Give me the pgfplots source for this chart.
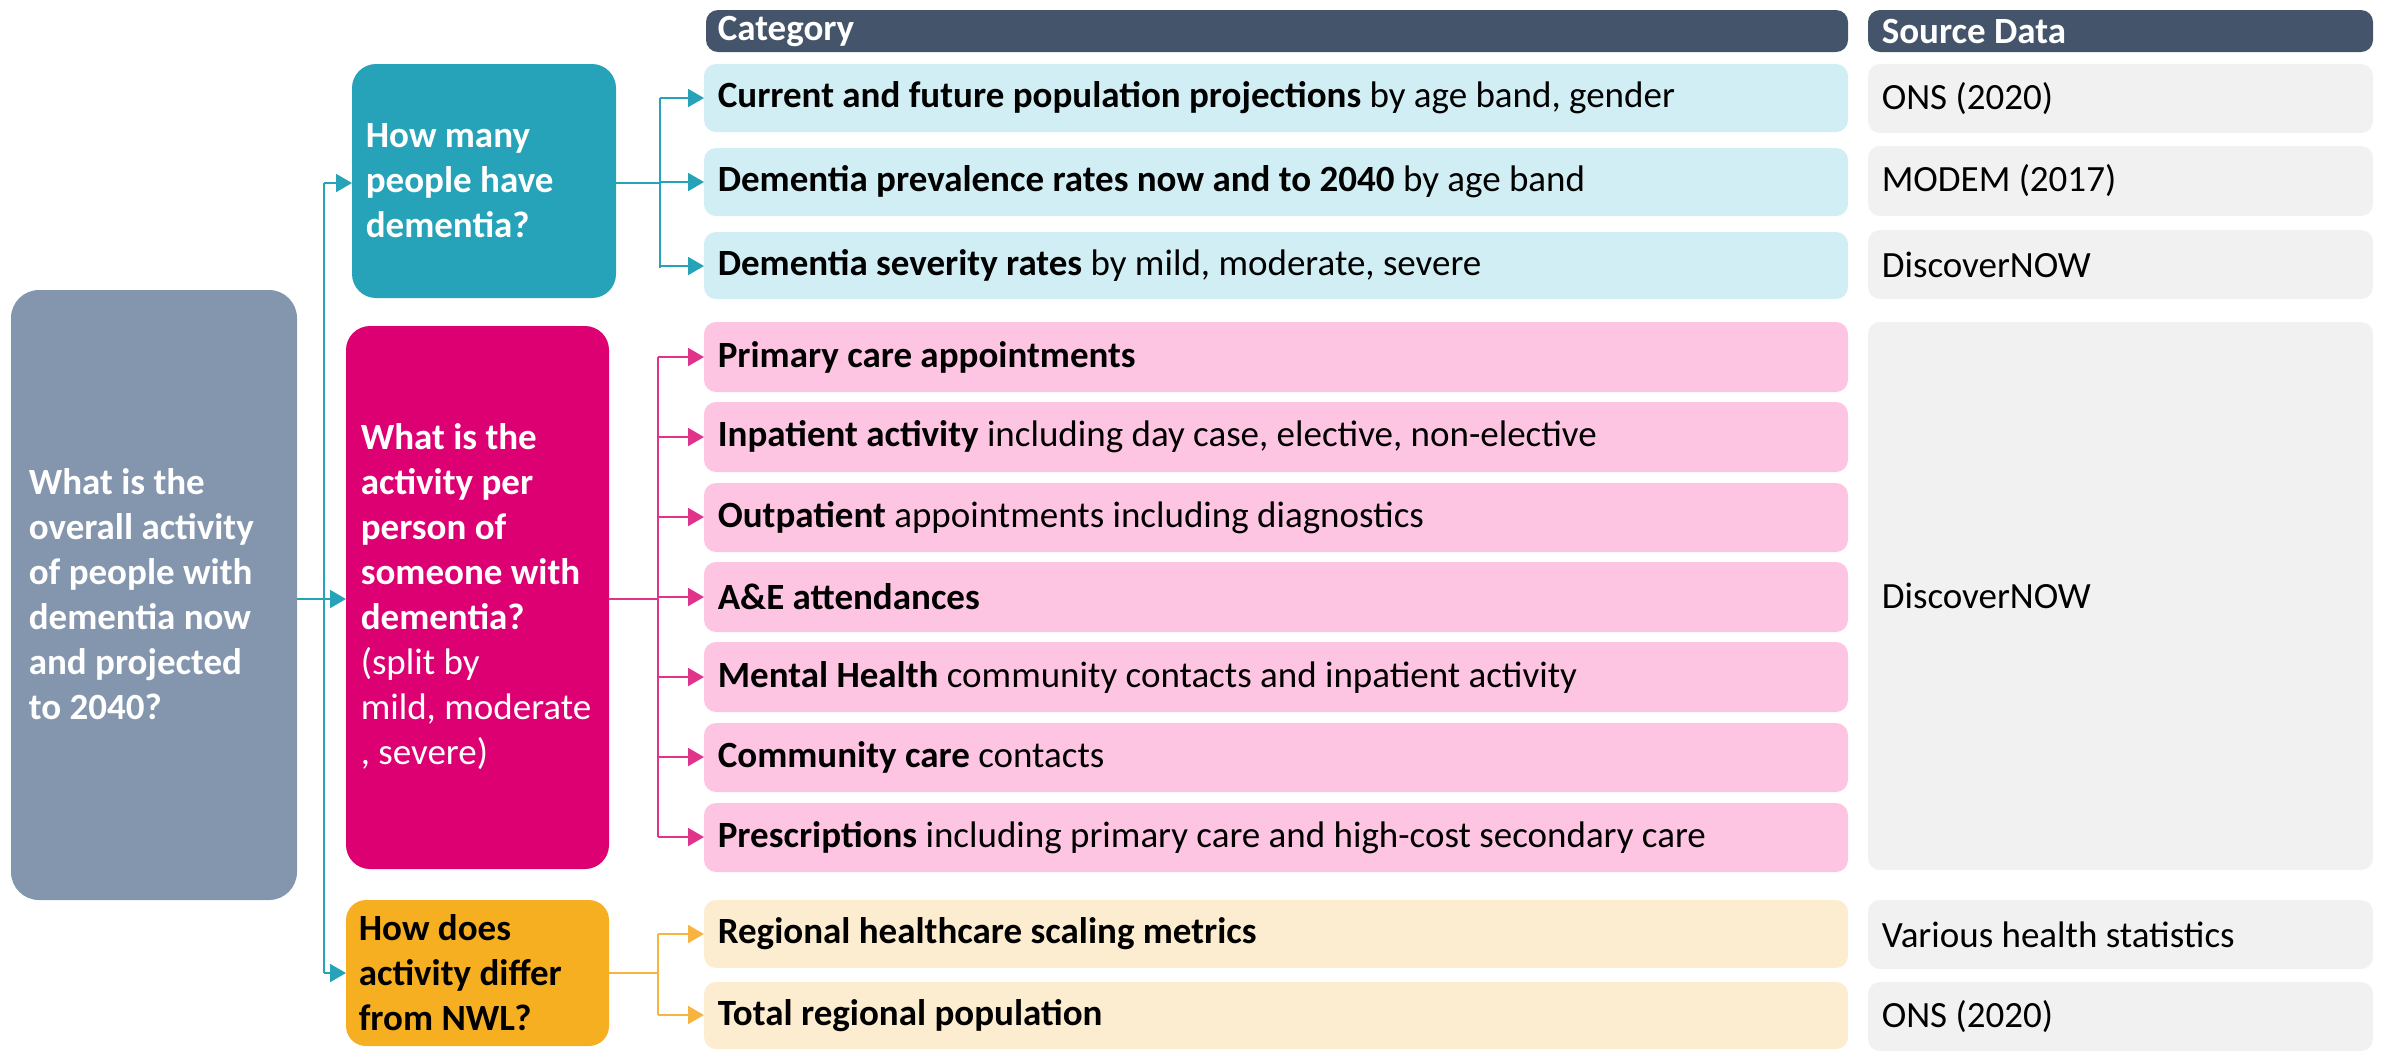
\documentclass[border=0pt]{standalone}
\usepackage{pgfplots}
\pgfplotsset{compat=1.18}
\usetikzlibrary{arrows.meta}
\usepackage{fontspec}
\setmainfont{Carlito}
\definecolor{cgray}{HTML}{8495AE}
\definecolor{cteal}{HTML}{26A3B8}
\definecolor{cmag}{HTML}{DC0073}
\definecolor{corange}{HTML}{F7AF22}
\definecolor{chead}{HTML}{44546A}
\definecolor{lblue}{HTML}{D0EEF3}
\definecolor{lpink}{HTML}{FEC5E3}
\definecolor{lorange}{HTML}{FDEDD0}
\definecolor{lgray}{HTML}{F1F1F1}
\definecolor{lnmag}{HTML}{E2338A}
\definecolor{lnorange}{HTML}{F8B440}
\newcommand\fs{\fontsize{9.25}{11.25}\selectfont}
\newcommand\rowbox[4]{%
  \fill[#1, rounded corners=3pt] (axis cs:704,#2) rectangle (axis cs:1848,#3);
  \node[anchor=west, inner sep=0pt, font=\fs] at (axis cs:717,{(#2+#3)/2}) {#4};}
\newcommand\srcbox[3]{%
  \fill[lgray, rounded corners=3pt] (axis cs:1868,#1) rectangle (axis cs:2373,#2);
  \node[anchor=west, inner sep=0pt, font=\fs] at (axis cs:1881,{(#1+#2)/2}) {#3};}
\tikzset{arr/.style={line width=0.5pt, -{Triangle[length=4pt,width=4.5pt]}}}
\begin{document}
\begin{tikzpicture}
\begin{axis}[width=596.25pt, height=263pt, scale only axis, xmin=0, xmax=2385, ymin=0, ymax=1052, y dir=reverse, hide axis, clip=false]
\path (axis cs:0,0) rectangle (axis cs:2385,1052);
% big boxes
\fill[cgray, rounded corners=7pt] (axis cs:11,290) rectangle (axis cs:297,900);
\fill[cteal, rounded corners=6pt] (axis cs:352,64) rectangle (axis cs:616,298);
\fill[cmag, rounded corners=6pt] (axis cs:346,326) rectangle (axis cs:609,869);
\fill[corange, rounded corners=5pt] (axis cs:346,900) rectangle (axis cs:609,1046);
\node[anchor=west, inner sep=0pt, align=left, text=white, font=\fs\bfseries] at (axis cs:28,594) {What is the\\overall activity\\of people with\\dementia now\\and projected\\to 2040?};
\node[anchor=west, inner sep=0pt, align=left, text=white, font=\fs\bfseries] at (axis cs:365,181) {How many\\people have\\dementia?};
\node[anchor=west, inner sep=0pt, align=left, text=white, font=\fs] at (axis cs:360,597) {\textbf{What is the}\\\textbf{activity per}\\\textbf{person of}\\\textbf{someone with}\\\textbf{dementia?}\\(split by\\mild, moderate\\, severe)};
\node[anchor=west, inner sep=0pt, align=left, text=black, font=\fs\bfseries] at (axis cs:358,973) {How does\\activity differ\\from NWL?};
% headers
\fill[chead, rounded corners=3pt] (axis cs:706,10) rectangle (axis cs:1848,52);
\fill[chead, rounded corners=3pt] (axis cs:1868,10) rectangle (axis cs:2373,52);
\node[anchor=west, inner sep=0pt, text=white, font=\fs\bfseries] at (axis cs:717,31) {Category};
\node[anchor=west, inner sep=0pt, text=white, font=\fs\bfseries] at (axis cs:1881,31) {Source Data};
% category rows
\rowbox{lblue}{64}{132}{\textbf{Current and future population projections} by age band, gender}
\rowbox{lblue}{148}{216}{\textbf{Dementia prevalence rates now and to 2040} by age band}
\rowbox{lblue}{232}{299}{\textbf{Dementia severity rates} by mild, moderate, severe}
\rowbox{lpink}{322}{392}{\textbf{Primary care appointments}}
\rowbox{lpink}{402}{472}{\textbf{Inpatient activity} including day case, elective, non-elective}
\rowbox{lpink}{483}{552}{\textbf{Outpatient} appointments including diagnostics}
\rowbox{lpink}{562}{632}{\textbf{A\&E attendances}}
\rowbox{lpink}{642}{712}{\textbf{Mental Health} community contacts and inpatient activity}
\rowbox{lpink}{723}{792}{\textbf{Community care} contacts}
\rowbox{lpink}{803}{872}{\textbf{Prescriptions} including primary care and high-cost secondary care}
\rowbox{lorange}{900}{968}{\textbf{Regional healthcare scaling metrics}}
\rowbox{lorange}{982}{1049}{\textbf{Total regional population}}
% source rows
\srcbox{64}{133}{ONS (2020)}
\srcbox{146}{216}{MODEM (2017)}
\srcbox{230}{299}{DiscoverNOW}
\srcbox{322}{870}{DiscoverNOW}
\srcbox{900}{969}{Various health statistics}
\srcbox{982}{1051}{ONS (2020)}
% connectors teal
\draw[cteal, line width=0.5pt] (axis cs:297,599) -- (axis cs:324,599);
\draw[cteal, line width=0.5pt] (axis cs:324,183) -- (axis cs:324,973);
\draw[cteal, arr] (axis cs:324,183) -- (axis cs:352,183);
\draw[cteal, arr] (axis cs:324,599) -- (axis cs:346,599);
\draw[cteal, arr] (axis cs:324,973) -- (axis cs:346,973);
\draw[cteal, line width=0.5pt] (axis cs:616,183) -- (axis cs:660,183);
\draw[cteal, line width=0.5pt] (axis cs:660,98) -- (axis cs:660,268);
\pgfplotsinvokeforeach{98,182,266}{\draw[cteal, arr] (axis cs:660,#1) -- (axis cs:704,#1);}
% connectors magenta
\draw[lnmag, line width=0.5pt] (axis cs:609,599) -- (axis cs:658,599);
\draw[lnmag, line width=0.5pt] (axis cs:658,357) -- (axis cs:658,837);
\pgfplotsinvokeforeach{357,437,517,597,677,757,837}{\draw[lnmag, arr] (axis cs:658,#1) -- (axis cs:704,#1);}
% connectors orange
\draw[lnorange, line width=0.5pt] (axis cs:609,973) -- (axis cs:658,973);
\draw[lnorange, line width=0.5pt] (axis cs:658,934) -- (axis cs:658,1015);
\pgfplotsinvokeforeach{934,1015}{\draw[lnorange, arr] (axis cs:658,#1) -- (axis cs:704,#1);}
\end{axis}
\end{tikzpicture}
\end{document}
